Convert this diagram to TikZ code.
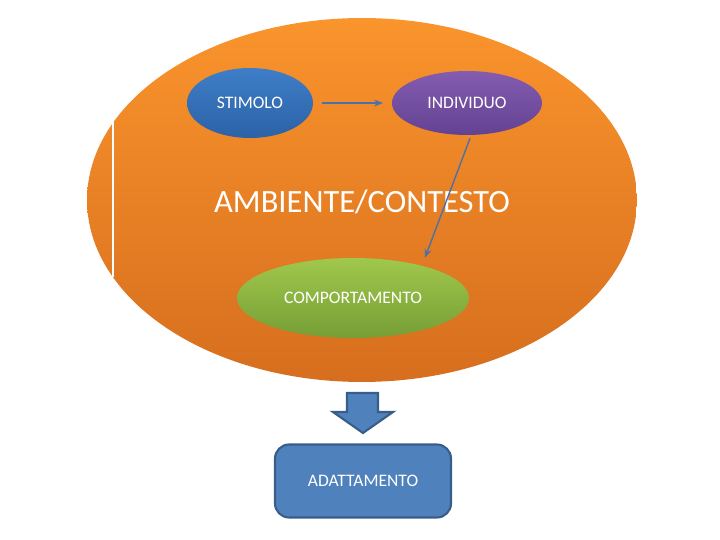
\documentclass[tikz,border=0pt]{standalone}
\usepackage{xcolor}
\usepackage{fontspec}
\setmainfont{Carlito}
\usepackage{tikz}
\usetikzlibrary{shapes.geometric, arrows.meta, positioning, calc}
\definecolor{ambtop}{RGB}{250,148,44}
\definecolor{ambbot}{RGB}{214,110,30}
\definecolor{stimtop}{RGB}{62,126,200}
\definecolor{stimbot}{RGB}{44,98,166}
\definecolor{indtop}{RGB}{132,92,176}
\definecolor{indbot}{RGB}{100,66,146}
\definecolor{comptop}{RGB}{160,200,76}
\definecolor{compbot}{RGB}{118,158,54}
\definecolor{boxfill}{RGB}{79,129,189}
\definecolor{boxline}{RGB}{56,93,138}
\definecolor{connblue}{RGB}{76,112,168}
\tikzset{
  oval/.style={ellipse, inner sep=0pt, draw=none,
    font=\fontsize{10}{12}\selectfont, text=white},
  bigoval/.style={ellipse, inner sep=0pt, draw=none,
    top color=ambtop, bottom color=ambbot},
  adbox/.style={rectangle, draw=boxline, fill=boxfill, line width=1.2pt,
    rounded corners=8pt, font=\fontsize{10}{12}\selectfont, text=white},
  arrow/.style={-{Stealth[length=5pt,width=4pt]}, line width=0.8pt, color=connblue}
}

\begin{document}
\begin{tikzpicture}[x=0.02cm, y=-0.02cm]
  \useasboundingbox (0,0) rectangle (720,540);
  % ambiente
  \node[bigoval, minimum width=11cm, minimum height=7.28cm] (amb) at (362,200) {};
  \draw[white, line width=0.6pt] (113,122) -- (113,277);
  \node[font=\fontsize{18.5}{22}\selectfont, text=white] (ambtxt) at (362,202) {AMBIENTE/CONTESTO};
  % stimolo e individuo
  \node[oval, top color=stimtop, bottom color=stimbot,
        minimum width=2.52cm, minimum height=1.4cm] (stim) at (250,103) {STIMOLO};
  \node[oval, top color=indtop, bottom color=indbot,
        minimum width=3cm, minimum height=1.28cm] (indiv) at (467,103) {INDIVIDUO};
  % comportamento
  \node[oval, top color=comptop, bottom color=compbot,
        minimum width=4.64cm, minimum height=1.6cm] (comp) at (353,298) {COMPORTAMENTO};
  % arrows
  \draw[arrow, shorten <=5pt, shorten >=5pt] (stim) -- (indiv);
  \draw[arrow] ($(indiv.south)+(3,3)$) -- ($(comp.north)+(72,0)$);
  % block arrow
  \draw[boxline, fill=boxfill, line width=1.2pt, line join=miter]
    (347,393) -- (378,393) -- (378,412) -- (393,412) -- (363,433)
    -- (333,412) -- (347,412) -- cycle;
  % adattamento
  \node[adbox, minimum width=3.52cm, minimum height=1.46cm] (adatt) at (363,481) {ADATTAMENTO};
\end{tikzpicture}
\end{document}
